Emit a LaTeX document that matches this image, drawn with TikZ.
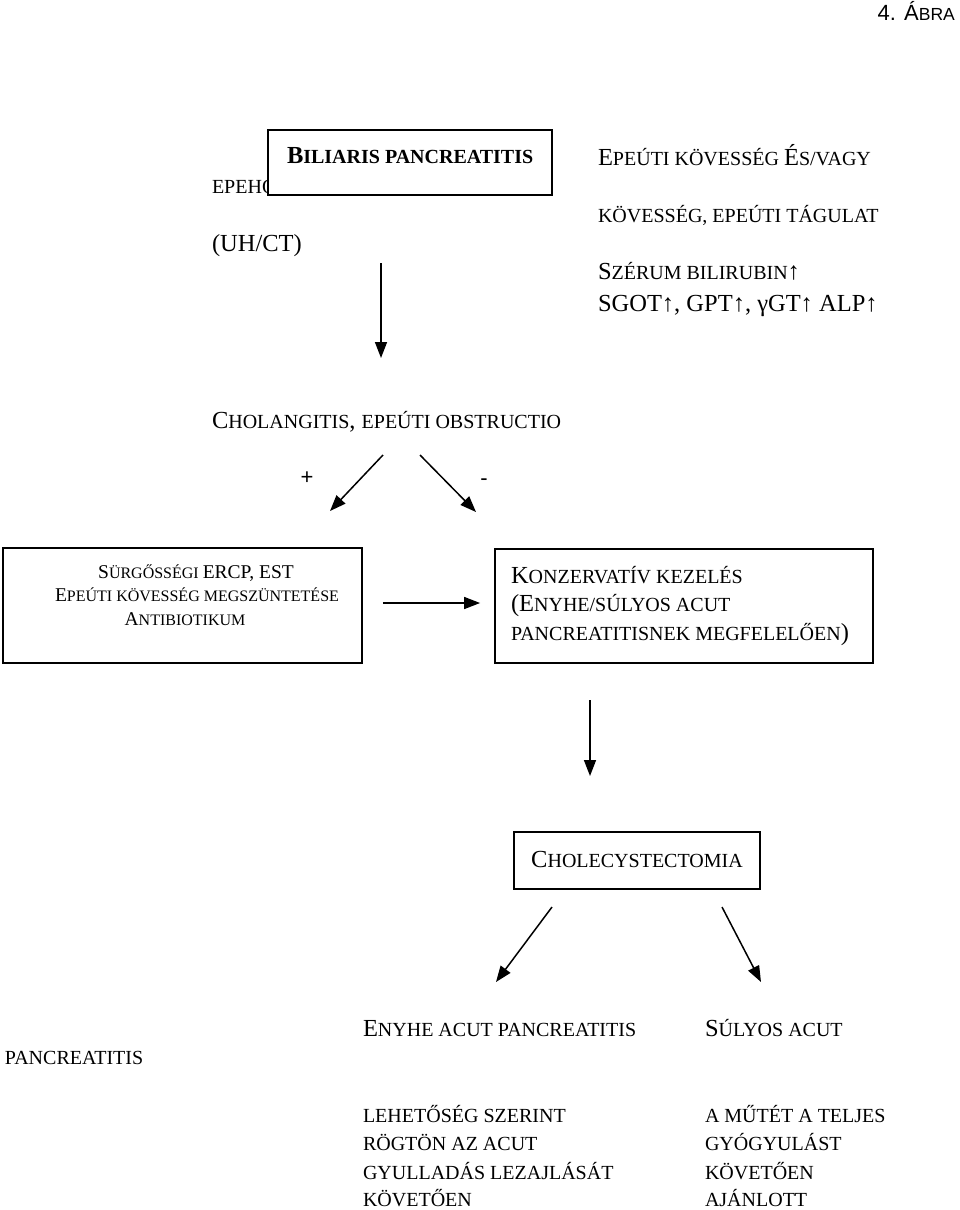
\documentclass[tikz,border=0pt]{standalone}
\usepackage{fontspec}
\setmainfont{Liberation Serif}
\setsansfont{Liberation Sans}
\usetikzlibrary{arrows.meta,calc}
\newcommand\Lg{\fontsize{24.5}{29}\selectfont}
\newcommand\Sm{\fontsize{20}{24}\selectfont}
\newcommand\Lb{\fontsize{19.5}{24}\selectfont}
\newcommand\Sb{\fontsize{16}{24}\selectfont}
\tikzset{
  txt/.style={anchor=base west, inner sep=0pt, outer sep=0pt},
  boxx/.style={draw, line width=1.8pt, fill=white, inner sep=0pt, rectangle},
  arr/.style={line width=1.5pt, -{Triangle[length=16pt,width=12pt]}},
}
\begin{document}
\begin{tikzpicture}[x=1pt,y=-1pt,font=\Sm]
\fill[white] (0,0) rectangle (960,1210);
\path[use as bounding box] (0,0) rectangle (960,1210);

% title
\node[anchor=base east, inner sep=0pt, font=\sffamily] (title) at (955,20)
  {{\fontsize{22}{26}\selectfont 4. Á}{\fontsize{17.5}{22}\selectfont BRA}};

% partly hidden text under the box
\node[txt] (epeh) at (212,193) {\Sm EPEHO};
% main box
\node[boxx, minimum width=284pt, minimum height=65pt] (bil) at (410,162.5) {};
\node[txt] (biltxt) at (287,163) {\bfseries{\Lg B}{\Sm ILIARIS PANCREATITIS}};
\node[txt] (uhct) at (212,251) {\Lg (UH/CT)};

% right column
\node[txt] (r1) at (598,165) {{\Lg E}{\Sm PEÚTI KÖVESSÉG }{\Lg É}{\Sm S/VAGY}};
\node[txt] (r2) at (598,222) {\Sm KÖVESSÉG, EPEÚTI TÁGULAT};
\node[txt] (r3) at (598,279) {{\Lg S}{\Sm ZÉRUM BILIRUBIN}{\Lg ↑}};
\node[txt] (r4) at (598,311) {\Lg SGOT↑, GPT↑, γGT↑ ALP↑};

\coordinate (a1s) at (381,263);
\coordinate (a1e) at (381,358);
\draw[arr] (a1s) -- (a1e);

\node[txt] (chol) at (212,428) {{\Lg C}{\Sm HOLANGITIS}{\Lg , }{\Sm EPEÚTI OBSTRUCTIO}};

\node[font=\sffamily\fontsize{22}{24}\selectfont, inner sep=0pt] (plus) at (307,478) {+};
\node[font=\sffamily\fontsize{22}{24}\selectfont, inner sep=0pt] (minus) at (484,482) {-};

\coordinate (a2s) at (383,455);
\coordinate (a2e) at (330,511);
\coordinate (a3s) at (420,455);
\coordinate (a3e) at (476,512);
\draw[arr] (a2s) -- (a2e);
\draw[arr] (a3s) -- (a3e);

% left box
\node[boxx, minimum width=359pt, minimum height=115pt] (lbox) at (182.5,605.5) {};
\node[anchor=base, inner sep=0pt] (lb1) at (196,578) {{\Lb S}{\Sb ÜRGŐSSÉGI }{\Lb ERCP, EST}};
\node[anchor=base, inner sep=0pt] (lb2) at (197,601) {{\Lb E}{\Sb PEÚTI KÖVESSÉG MEGSZÜNTETÉSE}};
\node[anchor=base, inner sep=0pt] (lb3) at (185,625) {{\Lb A}{\Sb NTIBIOTIKUM}};

% right box
\node[boxx, minimum width=378pt, minimum height=114pt] (rbox) at (684,606) {};
\node[txt] (rb1) at (511,583) {{\Lg K}{\Sm ONZERVATÍV KEZELÉS}};
\node[txt] (rb2) at (511,611.5) {{\Lg (E}{\Sm NYHE/SÚLYOS ACUT}};
\node[txt] (rb3) at (511,640) {{\Sm PANCREATITISNEK MEGFELELŐEN}{\Lg )}};

\draw[arr] ($(lbox.east)+(20,-2.5)$) -- ($(rbox.west)+(-14,-3)$);

\coordinate (a4s) at (590,700);
\coordinate (a4e) at (590,776);
\draw[arr] (a4s) -- (a4e);

% cholecystectomia
\node[boxx, minimum width=246pt, minimum height=57pt] (cbox) at (637,860.5) {};
\node[anchor=base, inner sep=0pt] (ctxt) at (637,867) {{\Lg C}{\Sm HOLECYSTECTOMIA}};

\coordinate (a5s) at (552,907);
\coordinate (a5e) at (496,982);
\coordinate (a6s) at (722,907);
\coordinate (a6e) at (761,982);
\draw[arr] (a5s) -- (a5e);
\draw[arr] (a6s) -- (a6e);

% bottom
\node[txt] (enyhe) at (363,1036) {{\Lg E}{\Sm NYHE ACUT PANCREATITIS}};
\node[txt] (sulyos) at (705,1036) {{\Lg S}{\Sm ÚLYOS ACUT}};
\node[txt] (pancr) at (5,1064) {\Sm PANCREATITIS};

\node[txt] (l1) at (363,1122) {\Sm LEHETŐSÉG SZERINT};
\node[txt] (l2) at (363,1150.5) {\Sm RÖGTÖN AZ ACUT};
\node[txt] (l3) at (363,1179) {\Sm GYULLADÁS LEZAJLÁSÁT};
\node[txt] (l4) at (363,1206) {\Sm KÖVETŐEN};

\node[txt] (s1) at (705,1122) {\Sm A MŰTÉT A TELJES};
\node[txt] (s2) at (705,1150.5) {\Sm GYÓGYULÁST};
\node[txt] (s3) at (705,1179) {\Sm KÖVETŐEN};
\node[txt] (s4) at (705,1206) {\Sm AJÁNLOTT};
\end{tikzpicture}
\end{document}
